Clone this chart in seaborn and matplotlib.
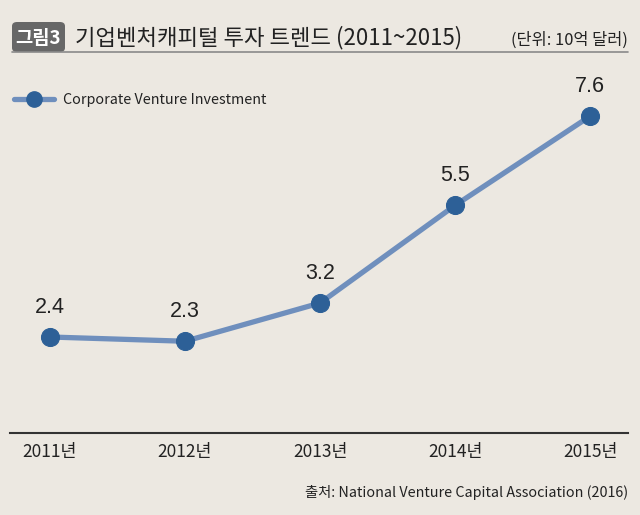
import matplotlib
matplotlib.use("Agg")
import matplotlib.pyplot as plt
import seaborn as sns
import pandas as pd
from matplotlib.patches import FancyBboxPatch
from matplotlib.lines import Line2D

# data
years = ["2011년", "2012년", "2013년", "2014년", "2015년"]
investment = [2.4, 2.3, 3.2, 5.5, 7.6]
series_name = "Corporate Venture Investment"
title = "기업벤처캐피털 투자 트렌드 (2011~2015)"
unit = "(단위: 10억 달러)"
source = "출처: National Venture Capital Association (2016)"

bg = "#ECE8E1"
line_c = "#6F8FBD"
dot_c = "#2D6097"

sns.set_theme(style="white")
plt.rcParams["font.family"] = ["Noto Sans CJK KR", "DejaVu Sans"]

df = pd.DataFrame({"year": years, "value": investment, "pos": range(len(years))})

fig = plt.figure(figsize=(6.4, 5.15), dpi=100, facecolor=bg)
ax = fig.add_axes([10 / 640, 82 / 515, 618 / 640, 353 / 515])
ax.set_facecolor(bg)

sns.lineplot(data=df, x="pos", y="value", ax=ax, color=line_c, lw=3.8,
             marker="o", markersize=13, markerfacecolor=dot_c,
             markeredgecolor=dot_c, legend=False)

for x, v in zip(df["pos"], df["value"]):
    ax.annotate(f"{v:.1f}", (x, v), xytext=(0, 14), textcoords="offset points",
                ha="center", va="bottom", fontsize=15.5, color="#222222",
                family=["Liberation Sans", "DejaVu Sans"])

ax.set_xlim(-0.296, 4.28)
ax.set_ylim(0.14, 8.45)
ax.set_xticks(df["pos"])
ax.set_xticklabels(years, fontsize=12.5, color="#222222")
ax.tick_params(axis="x", length=0, pad=7)
ax.set_yticks([])
ax.set_xlabel("")
ax.set_ylabel("")
for s in ["top", "left", "right"]:
    ax.spines[s].set_visible(False)
ax.spines["bottom"].set_color("#333333")
ax.spines["bottom"].set_linewidth(1.5)

# legend
handle = Line2D([], [], color=line_c, lw=3.8, marker="o", markersize=11,
                markerfacecolor=dot_c, markeredgecolor=dot_c)
fig.legend([handle], [series_name], loc="center left",
           bbox_to_anchor=(1 / 640, 1 - 100 / 515), frameon=False,
           handlelength=2.8, handletextpad=0.6, fontsize=10.3,
           labelcolor="#222222")

# header
fig.add_artist(FancyBboxPatch((12 / 640, 1 - 52 / 515), 53 / 640, 30 / 515,
                              boxstyle="round,pad=0,rounding_size=0.008",
                              transform=fig.transFigure, color="#676767", lw=0))
fig.text(38.5 / 640, 1 - 38 / 515, "그림3", ha="center", va="center",
         fontsize=13.5, color="white", fontweight="bold")
fig.text(75 / 640, 1 - 38 / 515, title, ha="left", va="center",
         fontsize=16, color="#222222")
fig.text(628 / 640, 1 - 40 / 515, unit, ha="right", va="center",
         fontsize=11.8, color="#222222")
fig.add_artist(Line2D([12 / 640, 628 / 640], [1 - 52 / 515, 1 - 52 / 515],
                      transform=fig.transFigure, color="#8a8a8a", lw=1.2))

fig.text(628 / 640, 1 - 493 / 515, source, ha="right", va="center",
         fontsize=10.3, color="#222222")

fig.savefig("out.png", dpi=100, facecolor=bg)
